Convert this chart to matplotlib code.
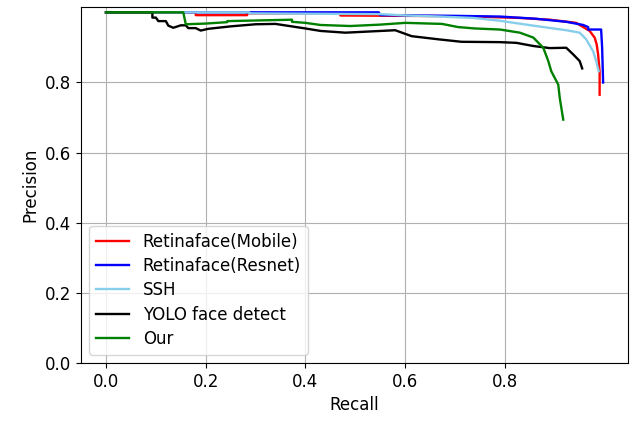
import numpy as np
import matplotlib
matplotlib.use("Agg")
import matplotlib.pyplot as plt

plt.rcParams["font.size"] = 12

# precision / recall points
mobile_recall = [0.0, 0.18, 0.18, 0.283, 0.283, 0.47, 0.47, 0.60, 0.70, 0.76, 0.83, 0.89,
                 0.943, 0.97, 0.98, 0.984, 0.987, 0.99, 0.99]
mobile_prec = [1.0, 1.0, 0.992, 0.992, 0.997, 0.997, 0.991, 0.99, 0.989, 0.987, 0.984, 0.979,
               0.97, 0.947, 0.928, 0.909, 0.88, 0.83, 0.765]

resnet_recall = [0.0, 0.547, 0.55, 0.62, 0.70, 0.79, 0.86, 0.923, 0.957, 0.967, 0.967,
                 0.993, 0.995, 0.997]
resnet_prec = [1.0, 1.0, 0.992, 0.991, 0.99, 0.988, 0.982, 0.973, 0.964, 0.958, 0.951,
               0.951, 0.9, 0.8]

ssh_recall = [0.0, 0.287, 0.287, 0.55, 0.603, 0.67, 0.737, 0.79, 0.857, 0.923, 0.95,
              0.963, 0.977, 0.983, 0.988]
ssh_prec = [1.0, 1.0, 0.997, 0.995, 0.991, 0.988, 0.984, 0.976, 0.962, 0.949, 0.942,
            0.923, 0.889, 0.861, 0.832]

yolo_recall = [0.0, 0.093, 0.093, 0.10, 0.105, 0.12, 0.125, 0.135, 0.15, 0.16, 0.165,
               0.18, 0.19, 0.205, 0.25, 0.30, 0.34, 0.40, 0.43, 0.48, 0.58, 0.613,
               0.667, 0.713, 0.79, 0.823, 0.857, 0.89, 0.923, 0.937, 0.95, 0.955]
yolo_prec = [1.0, 1.0, 0.985, 0.985, 0.975, 0.975, 0.962, 0.956, 0.963, 0.963, 0.955,
             0.955, 0.948, 0.953, 0.96, 0.966, 0.967, 0.954, 0.947, 0.942, 0.949, 0.932,
             0.923, 0.916, 0.915, 0.913, 0.904, 0.898, 0.899, 0.88, 0.861, 0.84]

our_recall = [0.0, 0.155, 0.16, 0.20, 0.243, 0.243, 0.373, 0.373, 0.40, 0.43, 0.49, 0.55,
              0.60, 0.674, 0.706, 0.74, 0.79, 0.83, 0.857, 0.877, 0.887, 0.893, 0.907,
              0.91, 0.917]
our_prec = [1.0, 1.0, 0.966, 0.968, 0.972, 0.975, 0.979, 0.973, 0.97, 0.964, 0.961, 0.965,
            0.97, 0.967, 0.958, 0.954, 0.951, 0.942, 0.928, 0.899, 0.861, 0.832, 0.794,
            0.756, 0.694]

fig = plt.figure(figsize=(6.34, 4.23), dpi=100)
ax = fig.add_axes([0.128, 0.142, 0.8625, 0.8415])

ax.plot(mobile_recall, mobile_prec, color="red", lw=1.7, label="Retinaface(Mobile)")
ax.plot(resnet_recall, resnet_prec, color="blue", lw=1.7, label="Retinaface(Resnet)")
ax.plot(ssh_recall, ssh_prec, color="skyblue", lw=1.7, label="SSH")
ax.plot(yolo_recall, yolo_prec, color="black", lw=1.7, label="YOLO face detect")
ax.plot(our_recall, our_prec, color="green", lw=1.7, label="Our")

ax.set_ylim(bottom=0)
ax.set_yticks([0.0, 0.2, 0.4, 0.6, 0.8])
ax.set_xticks([0.0, 0.2, 0.4, 0.6, 0.8])
ax.grid(True)
ax.set_xlabel("Recall")
ax.set_ylabel("Precision")
ax.legend(loc="lower left", labelspacing=0.38)

fig.savefig("out.png", dpi=100)
